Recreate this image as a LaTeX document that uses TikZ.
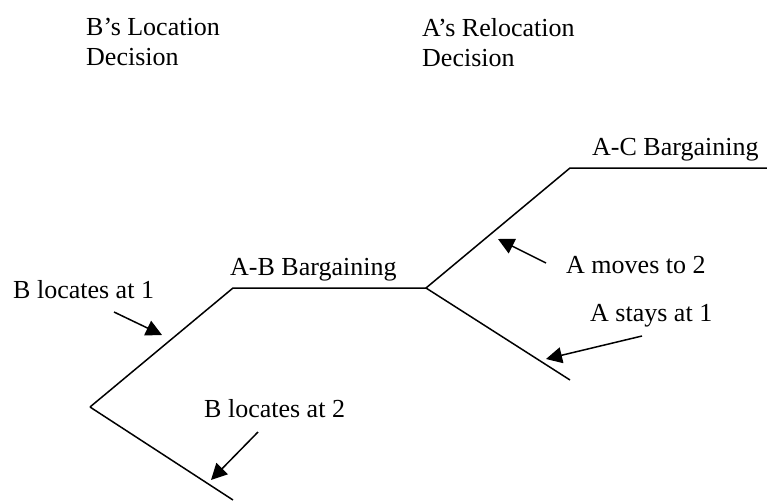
\documentclass[tikz,border=0pt]{standalone}
\usepackage{fontspec}
\setmainfont{Liberation Serif}
\usetikzlibrary{arrows.meta}

\tikzset{
  branch/.style={line width=1.5pt},
  pointer/.style={line width=1.5pt, -{Triangle[length=16pt,width=16pt]}},
  lbl/.style={inner sep=0pt, anchor=base west, font=\fontsize{26}{30}\selectfont}
}

\begin{document}
\begin{tikzpicture}[x=1pt, y=-1pt]
  \useasboundingbox (0,0) rectangle (767,500);

  % Tree vertices
  \coordinate (root) at (90,407);
  \coordinate (abL) at (233,288);
  \coordinate (abR) at (426,288);
  \coordinate (acL) at (570,168);
  \coordinate (acR) at (767,168);
  \coordinate (stay) at (570,380);
  \coordinate (b2) at (233,500);

  % Branches
  \draw[branch] (root) -- (abL) -- (abR) -- (acL) -- (acR);
  \draw[branch] (abR) -- (stay);
  \draw[branch] (root) -- (b2);

  % Stage headings
  \node[lbl, align=left, anchor=north west] (bhead) at (86,18) {B’s Location\\Decision};
  \node[lbl, align=left, anchor=north west] (ahead) at (422,18) {A’s Relocation\\Decision};

  % Branch labels
  \node[lbl] (acbar) at (592,155) {A-C Bargaining};
  \node[lbl] (abbar) at (230,275) {A-B Bargaining};
  \node[lbl] (amove) at (566,273) {A moves to 2};
  \node[lbl] (astay) at (590,321) {A stays at 1};
  \node[lbl] (bloc1) at (13,298) {B locates at 1};
  \node[lbl] (bloc2) at (204,417) {B locates at 2};

  % Pointer ends
  \coordinate (p1s) at (114,312);
  \coordinate (p1t) at (162,335);
  \coordinate (p2s) at (258,432);
  \coordinate (p2t) at (211,480);
  \coordinate (p3s) at (546,263);
  \coordinate (p3t) at (498,239);
  \coordinate (p4s) at (642,336);
  \coordinate (p4t) at (546,359);

  % Pointers
  \draw[pointer] (p1s) -- (p1t);
  \draw[pointer] (p2s) -- (p2t);
  \draw[pointer] (p3s) -- (p3t);
  \draw[pointer] (p4s) -- (p4t);
\end{tikzpicture}
\end{document}
